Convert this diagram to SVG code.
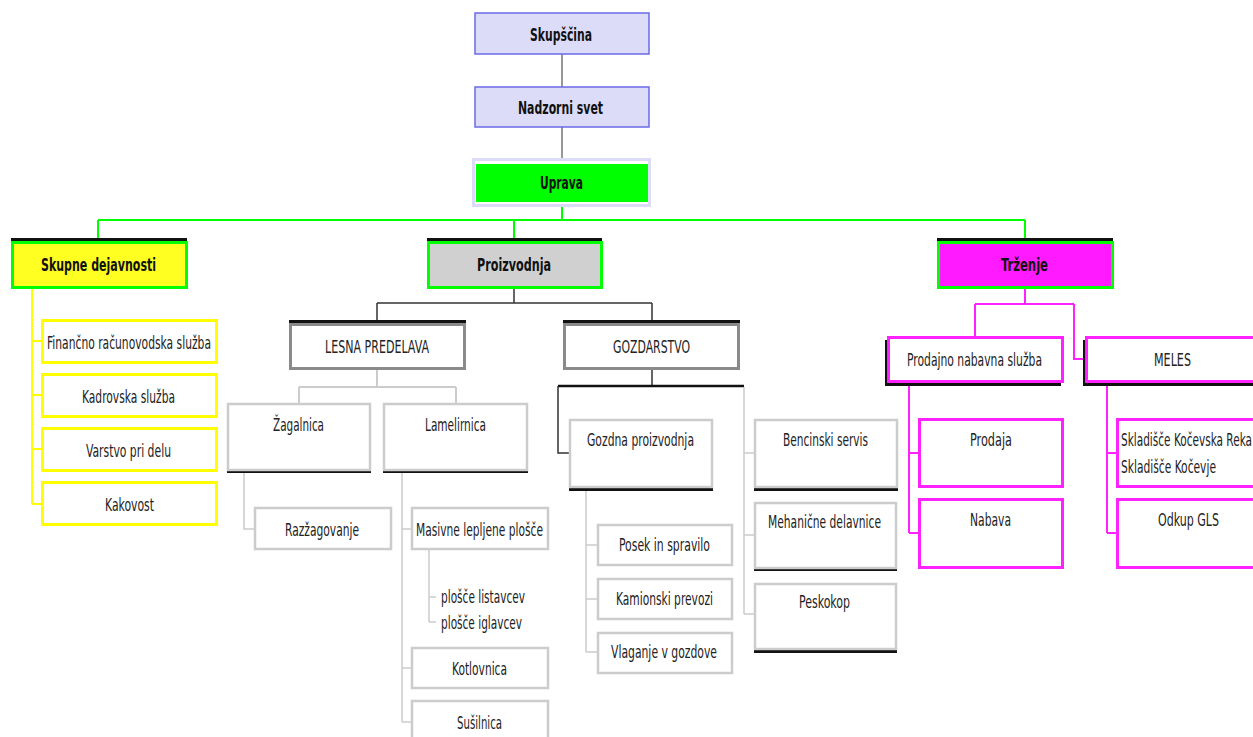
<svg xmlns="http://www.w3.org/2000/svg" width="1253" height="737" viewBox="0 0 1253 737">
<style>
text{font-family:"DejaVu Sans Condensed","DejaVu Sans",sans-serif;font-stretch:condensed;text-anchor:middle;fill:#222}
.b{font-weight:bold;font-size:17px;fill:#111}
.r{font-size:18px}
.s{text-anchor:start}
.top{fill:#dcdcf8;stroke:#6a6ae8;stroke-width:1.5}
.l1{stroke:#00ff00;stroke-width:3}
.sh{fill:#111}
.yb{fill:#fff;stroke:#ffff00;stroke-width:3}
.gb{fill:#fff;stroke:#8a8a8a;stroke-width:3}
.lb{fill:#fff;stroke:#cccccc;stroke-width:2.5}
.mb{fill:#fff;stroke:#ff22ff;stroke-width:3}
</style>
<g id="connectors" fill="none">
<path d="M562 54V87M562 127V159" stroke="#777" stroke-width="1.5"/>
<path d="M562 206V220M98 220H1025M98 220V241M514 220V241M1025 220V241" stroke="#00ff00" stroke-width="2"/>
<path d="M32 288V504M32 341H42M32 395H42M32 449H42M32 504H42" stroke="#ffff00" stroke-width="2"/>
<path d="M514 288V303M377 303H652M377 303V321M652 303V321" stroke="#333" stroke-width="1.5"/>
<path d="M377 369V387M299 387H456M299 387V403M456 387V403" stroke="#ccc" stroke-width="2"/>
<path d="M244 473V529H254" stroke="#ccc" stroke-width="1.5"/>
<path d="M402 473V722M402 529H411M402 668H411M402 722H411" stroke="#ccc" stroke-width="1.5"/>
<path d="M429 550V622M429 597H436M429 622H436" stroke="#ccc" stroke-width="1.5"/>
<path d="M652 369V386M558 386V453H569" stroke="#333" stroke-width="1.5"/>
<path d="M558 386H744" stroke="#111" stroke-width="2.5"/>
<path d="M744 387V614M744 453H754M744 535H754M744 614H754" stroke="#ccc" stroke-width="1.5"/>
<path d="M586 490V652M586 545H597M586 599H597M586 652H597" stroke="#ccc" stroke-width="1.5"/>
<path d="M1025 288V304M975 304H1074M975 304V337M1074 304V359H1085" stroke="#ff22ff" stroke-width="2"/>
<path d="M909 384V533M909 453H919M909 533H919" stroke="#ff22ff" stroke-width="2"/>
<path d="M1107 384V533M1107 453H1117M1107 533H1117" stroke="#ff22ff" stroke-width="2"/>
</g>
<g id="skupscina"><rect class="top" x="475" y="13" width="174" height="41"/><text class="b" x="561" y="41" textLength="62" lengthAdjust="spacingAndGlyphs">Skupščina</text></g>
<g id="nadzorni"><rect class="top" x="475" y="87" width="174" height="40"/><text class="b" x="560.5" y="114" textLength="85" lengthAdjust="spacingAndGlyphs">Nadzorni svet</text></g>
<g id="uprava"><rect x="473.5" y="159.5" width="176" height="46" fill="#fff" stroke="#dcdcf8" stroke-width="3"/><rect x="476" y="164" width="172" height="38" fill="#00ff00"/><text class="b" x="561.5" y="189" textLength="43" lengthAdjust="spacingAndGlyphs">Uprava</text></g>

<g id="skupne"><rect class="sh" x="11" y="238" width="176" height="6"/><rect x="12.5" y="242.5" width="174" height="45" fill="#ffff22" class="l1"/><text class="b" x="98.5" y="271" textLength="115" lengthAdjust="spacingAndGlyphs">Skupne dejavnosti</text></g>
<g id="financno"><rect class="yb" x="42.5" y="320.5" width="174" height="42"/><text class="r" x="129" y="349" textLength="164" lengthAdjust="spacingAndGlyphs">Finančno računovodska služba</text></g>
<g id="kadrovska"><rect class="yb" x="42.5" y="374.5" width="174" height="42"/><text class="r" x="128.5" y="403" textLength="93" lengthAdjust="spacingAndGlyphs">Kadrovska služba</text></g>
<g id="varstvo"><rect class="yb" x="42.5" y="428.5" width="174" height="42"/><text class="r" x="128.5" y="457" textLength="85" lengthAdjust="spacingAndGlyphs">Varstvo pri delu</text></g>
<g id="kakovost"><rect class="yb" x="42.5" y="482.5" width="174" height="42"/><text class="r" x="129.5" y="511" textLength="49" lengthAdjust="spacingAndGlyphs">Kakovost</text></g>

<g id="proizvodnja"><rect class="sh" x="427" y="238" width="175" height="6"/><rect x="428.5" y="242.5" width="173" height="45" fill="#d0d0d0" class="l1"/><text class="b" x="514" y="271" textLength="74" lengthAdjust="spacingAndGlyphs">Proizvodnja</text></g>

<g id="lesna"><rect class="sh" x="289" y="320" width="177" height="6"/><rect class="gb" x="290.5" y="324.5" width="174" height="44"/><text class="r" x="377" y="353" textLength="104" lengthAdjust="spacingAndGlyphs">LESNA PREDELAVA</text></g>
<g id="zagalnica"><rect class="sh" x="227" y="467" width="144" height="6"/><rect class="lb" x="228" y="404" width="142" height="66"/><text class="r" x="298.5" y="431" textLength="51" lengthAdjust="spacingAndGlyphs">Žagalnica</text></g>
<g id="lamelirnica"><rect class="sh" x="383" y="467" width="145" height="6"/><rect class="lb" x="384" y="404" width="143" height="66"/><text class="r" x="455.5" y="431" textLength="61" lengthAdjust="spacingAndGlyphs">Lamelirnica</text></g>
<g id="razzagovanje"><rect class="lb" x="255" y="508" width="136" height="41"/><text class="r" x="322" y="536" textLength="74" lengthAdjust="spacingAndGlyphs">Razžagovanje</text></g>
<g id="masivne"><rect class="lb" x="412" y="508" width="136" height="41"/><text class="r" x="479.5" y="536" textLength="127" lengthAdjust="spacingAndGlyphs">Masivne lepljene plošče</text></g>
<g id="listavcev"><text class="r s" x="441" y="603" textLength="84" lengthAdjust="spacingAndGlyphs">plošče listavcev</text></g>
<g id="iglavcev"><text class="r s" x="441" y="629" textLength="81" lengthAdjust="spacingAndGlyphs">plošče iglavcev</text></g>
<g id="kotlovnica"><rect class="lb" x="412" y="648" width="136" height="40"/><text class="r" x="479.5" y="675" textLength="55" lengthAdjust="spacingAndGlyphs">Kotlovnica</text></g>
<g id="susilnica"><rect class="lb" x="412" y="701" width="136" height="42"/><text class="r" x="479.5" y="729" textLength="45" lengthAdjust="spacingAndGlyphs">Sušilnica</text></g>

<g id="gozdarstvo"><rect class="sh" x="563" y="320" width="177" height="6"/><rect class="gb" x="564.5" y="324.5" width="174" height="44"/><text class="r" x="651.5" y="353" textLength="77" lengthAdjust="spacingAndGlyphs">GOZDARSTVO</text></g>
<g id="gozdna"><rect class="sh" x="569" y="485" width="144" height="6"/><rect class="lb" x="570" y="420" width="142" height="67"/><text class="r" x="640.5" y="446" textLength="107" lengthAdjust="spacingAndGlyphs">Gozdna proizvodnja</text></g>
<g id="posek"><rect class="lb" x="598" y="525" width="134" height="40"/><text class="r" x="664.5" y="551" textLength="91" lengthAdjust="spacingAndGlyphs">Posek in spravilo</text></g>
<g id="kamionski"><rect class="lb" x="598" y="579" width="134" height="40"/><text class="r" x="664.5" y="605" textLength="97" lengthAdjust="spacingAndGlyphs">Kamionski prevozi</text></g>
<g id="vlaganje"><rect class="lb" x="598" y="633" width="134" height="40"/><text class="r" x="664" y="658" textLength="106" lengthAdjust="spacingAndGlyphs">Vlaganje v gozdove</text></g>
<g id="bencinski"><rect class="sh" x="754" y="485" width="144" height="6"/><rect class="lb" x="755" y="420" width="142" height="67"/><text class="r" x="825.5" y="446" textLength="85" lengthAdjust="spacingAndGlyphs">Bencinski servis</text></g>
<g id="mehanicne"><rect class="sh" x="754" y="567" width="143" height="4"/><rect class="lb" x="755" y="503" width="141" height="65"/><text class="r" x="824.5" y="528" textLength="113" lengthAdjust="spacingAndGlyphs">Mehanične delavnice</text></g>
<g id="peskokop"><rect class="sh" x="754" y="648" width="143" height="5"/><rect class="lb" x="755" y="584" width="141" height="65"/><text class="r" x="824.5" y="608" textLength="51" lengthAdjust="spacingAndGlyphs">Peskokop</text></g>

<g id="trzenje"><rect class="sh" x="937" y="238" width="176" height="6"/><rect x="938.5" y="242.5" width="174" height="45" fill="#ff1aff" class="l1"/><text class="b" x="1024.5" y="271" textLength="47" lengthAdjust="spacingAndGlyphs">Trženje</text></g>
<g id="prodajno"><rect class="sh" x="885" y="340" width="176" height="46"/><rect class="mb" x="888.5" y="337.5" width="174" height="44"/><text class="r" x="974.5" y="366" textLength="135" lengthAdjust="spacingAndGlyphs">Prodajno nabavna služba</text></g>
<g id="meles"><rect class="sh" x="1083" y="340" width="176" height="46"/><rect class="mb" x="1086.5" y="337.5" width="174" height="44"/><text class="r" x="1172.5" y="366" textLength="37" lengthAdjust="spacingAndGlyphs">MELES</text></g>
<g id="prodaja"><rect class="mb" x="919.5" y="419.5" width="143" height="67"/><text class="r" x="991" y="446" textLength="42" lengthAdjust="spacingAndGlyphs">Prodaja</text></g>
<g id="nabava"><rect class="mb" x="919.5" y="499.5" width="143" height="68"/><text class="r" x="990.5" y="526" textLength="41" lengthAdjust="spacingAndGlyphs">Nabava</text></g>
<g id="skladisce"><rect class="mb" x="1117.5" y="419.5" width="143" height="67"/><text class="r s" x="1121" y="446" textLength="131" lengthAdjust="spacingAndGlyphs">Skladišče Kočevska Reka</text><text class="r s" x="1121" y="473" textLength="95" lengthAdjust="spacingAndGlyphs">Skladišče Kočevje</text></g>
<g id="odkup"><rect class="mb" x="1117.5" y="499.5" width="143" height="68"/><text class="r" x="1188.5" y="526" textLength="61" lengthAdjust="spacingAndGlyphs">Odkup GLS</text></g>
</svg>
